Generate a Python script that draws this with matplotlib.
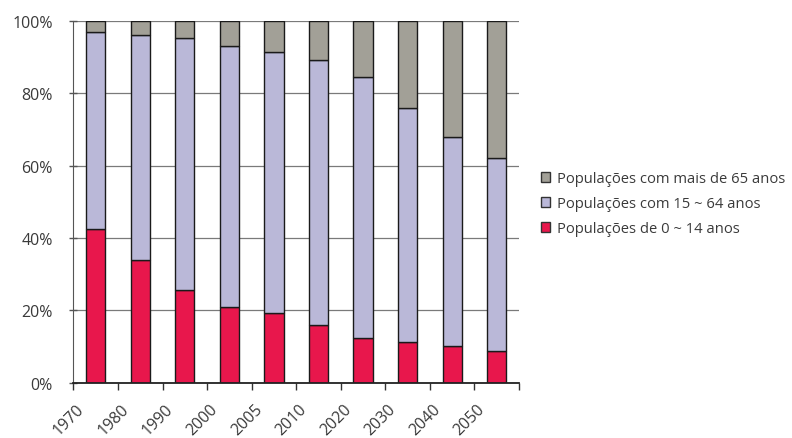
import matplotlib
matplotlib.use("Agg")
import matplotlib.pyplot as plt
import matplotlib.transforms as mtransforms
from matplotlib.patches import Patch
from matplotlib.ticker import FixedLocator, PercentFormatter

plt.rcParams['font.family'] = ['Open Sans', 'DejaVu Sans']

years = ['1970', '1980', '1990', '2000', '2005', '2010', '2020', '2030', '2040', '2050']
age_0_14 = [42.5, 33.9, 25.7, 21.0, 19.2, 16.0, 12.3, 11.2, 10.3, 8.8]
age_65_plus = [3.1, 3.9, 4.9, 7.1, 8.8, 11.0, 15.7, 24.2, 32.1, 37.9]
age_15_64 = [100 - a - c for a, c in zip(age_0_14, age_65_plus)]

labels = ['Populações de 0 ~ 14 anos', 'Populações com 15 ~ 64 anos',
          'Populações com mais de 65 anos']
colors = ['#E8174C', '#BAB8D8', '#A2A097']

fig = plt.figure(figsize=(7.92, 4.39), dpi=100)
ax = fig.add_axes([0.0928, 0.1253, 0.5625, 0.8257])

x = list(range(len(years)))
w = 0.43
bottom = [0] * len(years)
for vals, col in zip([age_0_14, age_15_64, age_65_plus], colors):
    ax.bar(x, vals, width=w, bottom=bottom, color=col, edgecolor='#1a1a1a',
           linewidth=1.0, zorder=3)
    bottom = [b + v for b, v in zip(bottom, vals)]

ax.set_xlim(-0.5, len(years) - 0.5)
ax.set_ylim(0, 100)
ax.set_yticks([0, 20, 40, 60, 80, 100])
ax.yaxis.set_major_formatter(PercentFormatter(decimals=0))
ax.grid(axis='y', color='#7a7a7a', linewidth=0.9, zorder=0)

ax.set_xticks(x)
ax.set_xticklabels(years, rotation=45, ha='right', va='center', rotation_mode='anchor')
ax.xaxis.set_minor_locator(FixedLocator([i - 0.5 for i in range(len(years) + 1)]))
ax.tick_params(axis='x', which='major', length=0, labelsize=11.5, labelcolor='#3a3a3a')
ax.tick_params(axis='x', which='minor', length=5, width=1, color='#333333', direction='out')
ax.tick_params(axis='y', length=6, width=1, color='#555555', direction='inout',
               labelsize=11.5, labelcolor='#3a3a3a', pad=12)

offset = mtransforms.ScaledTranslation(-0.14, -0.185, fig.dpi_scale_trans)
for lbl in ax.get_xticklabels():
    lbl.set_transform(lbl.get_transform() + offset)

for s in ['top', 'right']:
    ax.spines[s].set_visible(False)
ax.spines['left'].set_color('#555555')
ax.spines['bottom'].set_color('#222222')
ax.spines['bottom'].set_linewidth(1.3)
ax.spines['bottom'].set_zorder(4)

handles = [Patch(facecolor=c, edgecolor='#333333', linewidth=1.0) for c in colors]
leg = fig.legend(handles[::-1], labels[::-1], loc='upper left',
                 bbox_to_anchor=(0.666, 0.638), frameon=False, fontsize=10.6,
                 handlelength=0.6, handleheight=0.6, handletextpad=0.5,
                 labelspacing=0.68, labelcolor='#3a3a3a')

fig.savefig('out.png', dpi=100)
